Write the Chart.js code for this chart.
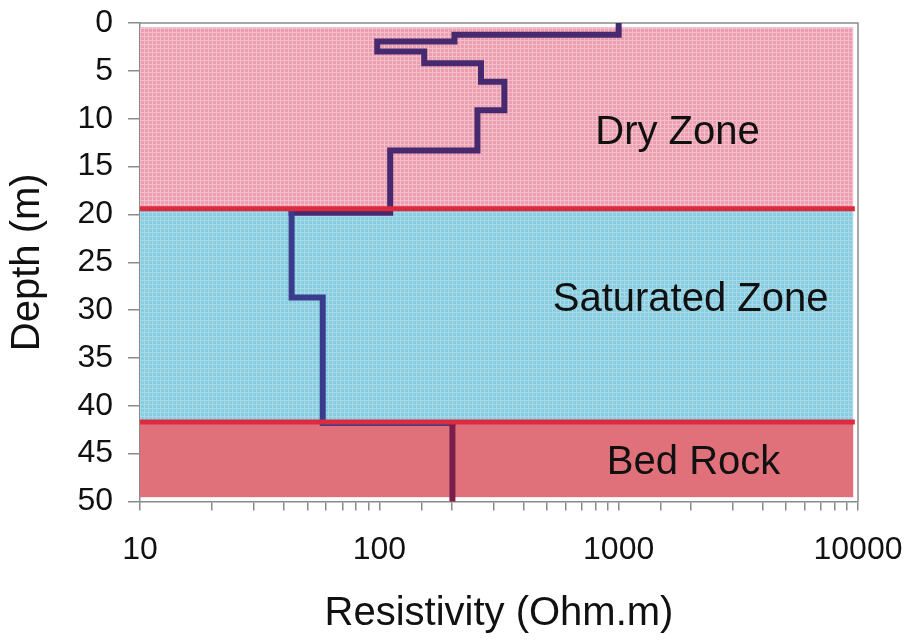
<!DOCTYPE html>
<html>
<head>
<meta charset="utf-8">
<script src="https://cdn.jsdelivr.net/npm/chart.js@4.4.1/dist/chart.umd.min.js"></script>
<style>
  html, body { margin: 0; padding: 0; background: #fff; }
  #wrap { width: 911px; height: 641px; }
</style>
</head>
<body>
<div id="wrap"><canvas id="c" width="911" height="641"></canvas></div>
<script>
// Layered resistivity model: resistivity of each layer (Ohm.m) and depth of its base (m)
const layerResistivity = [1000, 206, 98, 154, 266, 333, 257, 111, 43, 58, 202];
const layerBaseDepth   = [1.23, 1.93, 2.98, 4.21, 6.14, 9.12, 13.33, 19.83, 28.68, 41.8, 50];

// Interpreted zones (depth ranges, m)
const zoneNames  = ['Dry Zone', 'Saturated Zone', 'Bed Rock'];
const zoneTop    = [0.45, 19.4, 41.7];
const zoneBottom = [19.4, 41.7, 49.55];
const zoneBoundaries = [19.4, 41.7];

// Axis ticks
const xTickValues = [10, 100, 1000, 10000];
const xTickLabels = ['10', '100', '1000', '10000'];
const yTickStep = 5;

const FONT = "'Liberation Sans', Arial, Helvetica, sans-serif";

// Step profile: vertical within a layer, horizontal at each layer base
const profile = [{ x: layerResistivity[0], y: 0 }];
layerResistivity.forEach((r, i) => {
  profile.push({ x: r, y: layerBaseDepth[i] });
  if (i + 1 < layerResistivity.length) {
    profile.push({ x: layerResistivity[i + 1], y: layerBaseDepth[i] });
  }
});

// Small tiled texture used for the zone fills
function meshPattern(ctx, base, mesh) {
  const t = document.createElement('canvas');
  t.width = 4; t.height = 4;
  const g = t.getContext('2d');
  g.fillStyle = base; g.fillRect(0, 0, 4, 4);
  g.fillStyle = mesh; g.fillRect(0, 0, 4, 1); g.fillRect(0, 0, 1, 4);
  return ctx.createPattern(t, 'repeat');
}

const zonePlugin = {
  id: 'zones',
  beforeDatasetsDraw(chart, args, opts) {
    const { ctx, chartArea: a, scales: { x, y } } = chart;
    const fills = [
      meshPattern(ctx, '#eb9eb0', '#f3bdc9'),
      meshPattern(ctx, '#89cce0', '#a6dae9'),
      '#e0717b'
    ];
    ctx.save();
    const left = x.getPixelForValue(opts.xFrom);
    const right = x.getPixelForValue(opts.xTo);
    zoneNames.forEach((n, i) => {
      const top = y.getPixelForValue(zoneTop[i]);
      const bottom = y.getPixelForValue(zoneBottom[i]);
      ctx.fillStyle = fills[i];
      ctx.fillRect(left, top, right - left, bottom - top);
    });
    // plot frame (top and right edges)
    ctx.strokeStyle = '#8a8a8a';
    ctx.lineWidth = 1.5;
    ctx.beginPath();
    ctx.moveTo(a.left, a.top);
    ctx.lineTo(a.right, a.top);
    ctx.lineTo(a.right, a.bottom);
    ctx.stroke();
    ctx.restore();
  },
  afterDatasetsDraw(chart, args, opts) {
    const { ctx, scales: { x, y } } = chart;
    ctx.save();
    const left = x.getPixelForValue(opts.xFrom);
    const right = x.getPixelForValue(opts.lineTo);
    ctx.strokeStyle = '#dc2a3e';
    ctx.lineWidth = 5;
    zoneBoundaries.forEach(d => {
      const py = y.getPixelForValue(d);
      ctx.beginPath();
      ctx.moveTo(left, py);
      ctx.lineTo(right, py);
      ctx.stroke();
    });
    ctx.fillStyle = '#111';
    ctx.font = '40px ' + FONT;
    ctx.textAlign = 'center';
    ctx.textBaseline = 'alphabetic';
    zoneNames.forEach((n, i) => {
      const p = opts.labelAt[i];
      ctx.fillText(n, x.getPixelForValue(p.x), y.getPixelForValue(p.y));
    });
    ctx.restore();
  }
};

const segColor = c => {
  const d = Math.max(c.p0.parsed.y, c.p1.parsed.y);
  if (d > 41.9) return '#7a1f4c';
  if (d > 19.9) return '#393c8c';
  return '#47296f';
};

new Chart(document.getElementById('c'), {
  type: 'scatter',
  data: {
    datasets: [{
      data: profile,
      showLine: true,
      pointRadius: 0,
      borderWidth: 6,
      borderColor: '#47296f',
      borderCapStyle: 'square',
      borderJoinStyle: 'miter',
      tension: 0,
      segment: { borderColor: segColor }
    }]
  },
  options: {
    responsive: false,
    animation: false,
    events: [],
    layout: { padding: { top: 23, right: 53, left: 0, bottom: 0 } },
    plugins: {
      legend: { display: false },
      tooltip: { enabled: false },
      zones: {
        xFrom: 10,
        xTo: 9550,
        lineTo: 9700,
        labelAt: [{ x: 1762, y: 12.63 }, { x: 1998, y: 30.06 }, { x: 2056, y: 47.1 }]
      }
    },
    scales: {
      x: {
        type: 'logarithmic',
        position: 'bottom',
        min: 10,
        max: 10000,
        afterFit: s => { s.height = 139.5; s.paddingLeft = 0; s.paddingRight = 0; },
        border: { display: true, color: '#8a8a8a', width: 1.5 },
        grid: { drawOnChartArea: false, drawTicks: true, tickLength: 9, color: '#8a8a8a', lineWidth: 1.5 },
        ticks: {
          autoSkip: false,
          maxRotation: 0,
          padding: 20,
          color: '#111',
          font: { family: FONT, size: 32 },
          callback: v => {
            const i = xTickValues.indexOf(Math.round(v));
            return i >= 0 ? xTickLabels[i] : '';
          }
        },
        title: {
          display: true,
          text: 'Resistivity (Ohm.m)',
          color: '#111',
          font: { family: FONT, size: 40 },
          padding: { top: 0, bottom: 3 }
        }
      },
      y: {
        type: 'linear',
        reverse: true,
        min: 0,
        max: 50,
        afterFit: s => { s.width = 140; s.paddingTop = 0; s.paddingBottom = 0; },
        border: { display: true, color: '#8a8a8a', width: 1.5 },
        grid: { drawOnChartArea: false, drawTicks: true, tickLength: 12, color: '#8a8a8a', lineWidth: 1.5 },
        ticks: {
          stepSize: yTickStep,
          padding: 15,
          color: '#111',
          font: { family: FONT, size: 32 }
        },
        title: {
          display: true,
          text: 'Depth (m)',
          color: '#111',
          font: { family: FONT, size: 40 },
          padding: { top: 4, bottom: 0 }
        }
      }
    }
  },
  plugins: [zonePlugin]
});
</script>
</body>
</html>
